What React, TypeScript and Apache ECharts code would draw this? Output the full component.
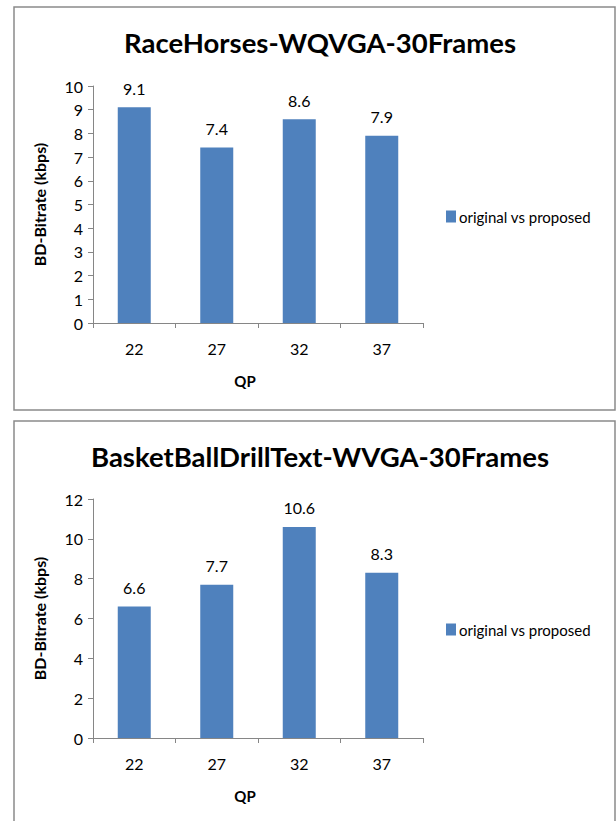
import React, { useEffect, useRef } from "react";
import * as echarts from "echarts";

const categories = ["22", "27", "32", "37"];
const raceHorsesValues = [9.1, 7.4, 8.6, 7.9];
const basketBallValues = [6.6, 7.7, 10.6, 8.3];
const titles = ["RaceHorses-WQVGA-30Frames", "BasketBallDrillText-WVGA-30Frames"];
const seriesName = "original vs proposed";
const yAxisName = "BD-Bitrate (kbps)";
const xAxisName = "QP";

const FONT = "Lato, 'Open Sans', sans-serif";
const BAR = "#4F81BD";
const AXIS = "#868686";

export default function App() {
  const ref = useRef<HTMLDivElement>(null);
  useEffect(() => {
    document.body.style.margin = "0";
    const chart = echarts.init(ref.current!, null, { renderer: "svg" });
    const mkX = (gi: number) => ({
      type: "category",
      gridIndex: gi,
      data: categories,
      name: xAxisName,
      nameLocation: "middle",
      nameGap: 50,
      nameTextStyle: { fontFamily: FONT, fontWeight: "bold", fontSize: 15, color: "#000", padding: [0, 26, 0, 0] },
      axisLine: { lineStyle: { color: AXIS, width: 1 } },
      axisTick: { show: true, alignWithLabel: false, length: 5, lineStyle: { color: AXIS } },
      axisLabel: { fontFamily: FONT, fontSize: 16, color: "#000", margin: 17 },
    });
    const mkY = (gi: number, max: number, interval: number) => ({
      type: "value",
      gridIndex: gi,
      min: 0,
      max,
      interval,
      name: yAxisName,
      nameLocation: "middle",
      nameGap: 46,
      nameRotate: 90,
      nameTextStyle: { fontFamily: FONT, fontWeight: "bold", fontSize: 16, color: "#000" },
      axisLine: { show: true, lineStyle: { color: AXIS, width: 1 } },
      axisTick: { show: true, length: 5, lineStyle: { color: AXIS } },
      splitLine: { show: false },
      axisLabel: { fontFamily: FONT, fontSize: 16, color: "#000", margin: 10 },
    });
    const mkSeries = (gi: number, data: number[]) => ({
      type: "bar",
      name: seriesName,
      xAxisIndex: gi,
      yAxisIndex: gi,
      data,
      barWidth: "40%",
      itemStyle: { color: BAR },
      label: {
        show: true,
        position: "top",
        distance: 11,
        fontFamily: FONT,
        fontSize: 16,
        color: "#000",
      },
    });
    const legendBase = {
      data: [seriesName],
      left: 441,
      itemWidth: 10,
      itemHeight: 12,
      itemGap: 4,
      icon: "rect",
      textStyle: { fontFamily: FONT, fontSize: 15, color: "#000", padding: [0, 0, 0, -2] },
    };
    chart.setOption({
      animation: false,
      backgroundColor: "#fff",
      title: [
        {
          text: titles[0],
          left: 315,
          top: 23,
          textAlign: "center",
          textStyle: { fontFamily: FONT, fontWeight: "bold", fontSize: 27.5, color: "#000" },
        },
        {
          text: titles[1],
          left: 315,
          top: 437,
          textAlign: "center",
          textStyle: { fontFamily: FONT, fontWeight: "bold", fontSize: 27.5, color: "#000" },
        },
      ],
      legend: [
        { ...legendBase, top: 204 },
        { ...legendBase, top: 617 },
      ],
      grid: [
        { left: 93, width: 330, top: 86, height: 237 },
        { left: 93, width: 330, top: 499, height: 239 },
      ],
      xAxis: [mkX(0), mkX(1)],
      yAxis: [mkY(0, 10, 1), mkY(1, 12, 2)],
      series: [mkSeries(0, raceHorsesValues), mkSeries(1, basketBallValues)],
      graphic: [
        {
          type: "rect",
          shape: { x: 14, y: 7, width: 601, height: 403 },
          style: { fill: "none", stroke: "#8a8a8a", lineWidth: 1.5 },
          silent: true,
        },
        {
          type: "rect",
          shape: { x: 14, y: 421, width: 601, height: 420 },
          style: { fill: "none", stroke: "#8a8a8a", lineWidth: 1.5 },
          silent: true,
        },
      ],
    });
    return () => chart.dispose();
  }, []);
  return <div ref={ref} style={{ width: 616, height: 821 }} />;
}
